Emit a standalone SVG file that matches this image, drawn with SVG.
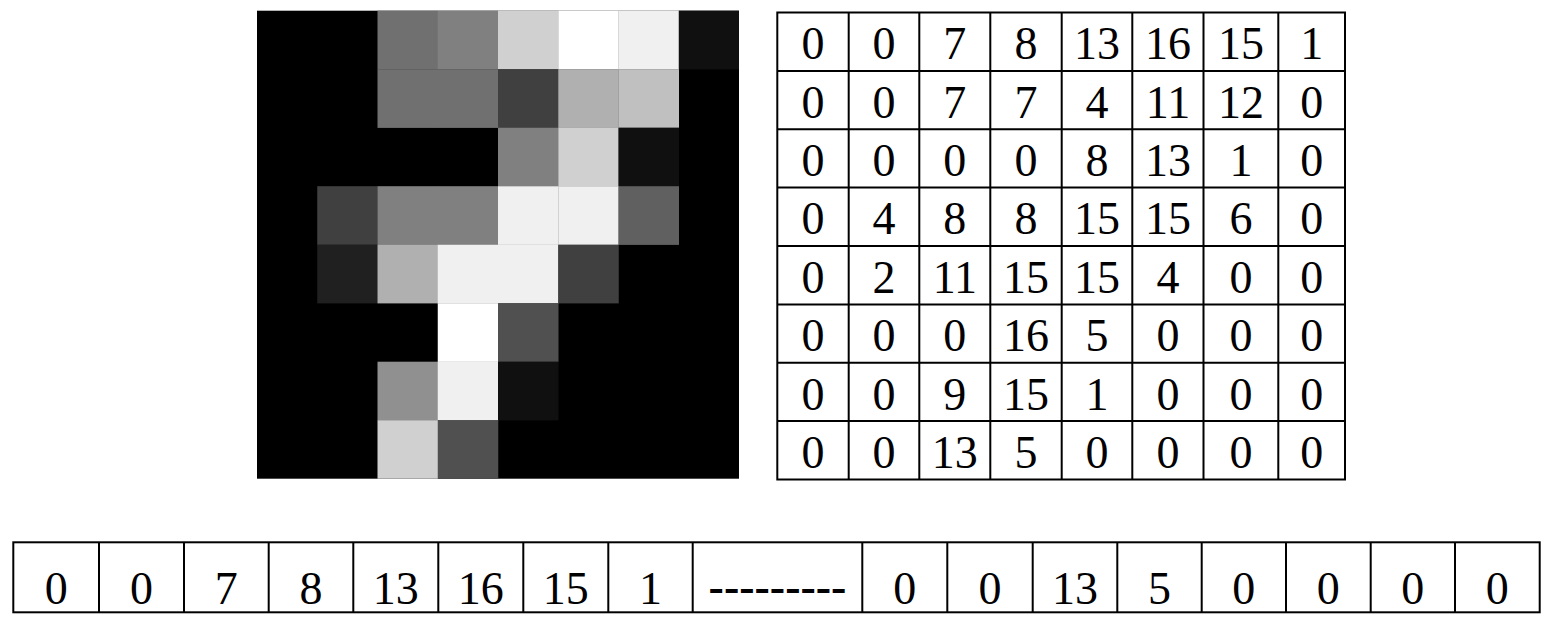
<svg xmlns="http://www.w3.org/2000/svg" width="1554" height="634" viewBox="0 0 1554 634">
<style>
.ln{stroke:#000;stroke-width:2;fill:none}
.t{font-family:"Liberation Serif","Times New Roman",serif;font-size:46px;fill:#000;text-anchor:middle}
.dash{font-weight:bold}
</style>
<rect width="1554" height="634" fill="#fff"/>
<g id="pixel-image">
<rect x="257" y="10.7" width="482" height="468" fill="#000"/>
<!-- row 0 -->
<rect x="377.5" y="10.7" width="60.5" height="58.7" fill="#707070"/>
<rect x="437.75" y="10.7" width="60.5" height="58.7" fill="#808080"/>
<rect x="498" y="10.7" width="60.5" height="58.7" fill="#d0d0d0"/>
<rect x="558.25" y="10.7" width="60.5" height="58.7" fill="#ffffff"/>
<rect x="618.5" y="10.7" width="60.5" height="58.7" fill="#f0f0f0"/>
<rect x="678.75" y="10.7" width="60.25" height="58.7" fill="#101010"/>
<!-- row 1 -->
<rect x="377.5" y="69.2" width="60.5" height="58.7" fill="#707070"/>
<rect x="437.75" y="69.2" width="60.5" height="58.7" fill="#707070"/>
<rect x="498" y="69.2" width="60.5" height="58.7" fill="#404040"/>
<rect x="558.25" y="69.2" width="60.5" height="58.7" fill="#b0b0b0"/>
<rect x="618.5" y="69.2" width="60.5" height="58.7" fill="#c0c0c0"/>
<!-- row 2 -->
<rect x="498" y="127.7" width="60.5" height="58.7" fill="#808080"/>
<rect x="558.25" y="127.7" width="60.5" height="58.7" fill="#d0d0d0"/>
<rect x="618.5" y="127.7" width="60.5" height="58.7" fill="#101010"/>
<!-- row 3 -->
<rect x="317.25" y="186.2" width="60.5" height="58.7" fill="#404040"/>
<rect x="377.5" y="186.2" width="60.5" height="58.7" fill="#808080"/>
<rect x="437.75" y="186.2" width="60.5" height="58.7" fill="#808080"/>
<rect x="498" y="186.2" width="60.5" height="58.7" fill="#f0f0f0"/>
<rect x="558.25" y="186.2" width="60.5" height="58.7" fill="#f0f0f0"/>
<rect x="618.5" y="186.2" width="60.5" height="58.7" fill="#606060"/>
<!-- row 4 -->
<rect x="317.25" y="244.7" width="60.5" height="58.7" fill="#202020"/>
<rect x="377.5" y="244.7" width="60.5" height="58.7" fill="#b0b0b0"/>
<rect x="437.75" y="244.7" width="60.5" height="58.7" fill="#f0f0f0"/>
<rect x="498" y="244.7" width="60.5" height="58.7" fill="#f0f0f0"/>
<rect x="558.25" y="244.7" width="60.5" height="58.7" fill="#404040"/>
<!-- row 5 -->
<rect x="437.75" y="303.2" width="60.5" height="58.7" fill="#ffffff"/>
<rect x="498" y="303.2" width="60.5" height="58.7" fill="#505050"/>
<!-- row 6 -->
<rect x="377.5" y="361.7" width="60.5" height="58.7" fill="#909090"/>
<rect x="437.75" y="361.7" width="60.5" height="58.7" fill="#f0f0f0"/>
<rect x="498" y="361.7" width="60.5" height="58.7" fill="#101010"/>
<!-- row 7 -->
<rect x="377.5" y="420.2" width="60.5" height="58.5" fill="#d0d0d0"/>
<rect x="437.75" y="420.2" width="60.5" height="58.5" fill="#505050"/>
</g>
<g id="value-table">
<rect class="ln" x="777.3" y="12.5" width="567.7" height="467"/>
<path class="ln" d="M848.7 12.5V479.5M919.3 12.5V479.5M990.3 12.5V479.5M1061.7 12.5V479.5M1132.3 12.5V479.5M1203.5 12.5V479.5M1278.3 12.5V479.5"/>
<path class="ln" d="M777.3 70.9H1345M777.3 129.25H1345M777.3 187.6H1345M777.3 246H1345M777.3 304.4H1345M777.3 362.75H1345M777.3 421.1H1345"/>
<g class="t">
<text x="813" y="59.3">0</text><text x="884" y="59.3">0</text><text x="954.8" y="59.3">7</text><text x="1026" y="59.3">8</text><text x="1097" y="59.3">13</text><text x="1168" y="59.3">16</text><text x="1241" y="59.3">15</text><text x="1311.7" y="59.3">1</text>
<text x="813" y="117.7">0</text><text x="884" y="117.7">0</text><text x="954.8" y="117.7">7</text><text x="1026" y="117.7">7</text><text x="1097" y="117.7">4</text><text x="1168" y="117.7">11</text><text x="1241" y="117.7">12</text><text x="1311.7" y="117.7">0</text>
<text x="813" y="176">0</text><text x="884" y="176">0</text><text x="954.8" y="176">0</text><text x="1026" y="176">0</text><text x="1097" y="176">8</text><text x="1168" y="176">13</text><text x="1241" y="176">1</text><text x="1311.7" y="176">0</text>
<text x="813" y="234.4">0</text><text x="884" y="234.4">4</text><text x="954.8" y="234.4">8</text><text x="1026" y="234.4">8</text><text x="1097" y="234.4">15</text><text x="1168" y="234.4">15</text><text x="1241" y="234.4">6</text><text x="1311.7" y="234.4">0</text>
<text x="813" y="292.8">0</text><text x="884" y="292.8">2</text><text x="954.8" y="292.8">11</text><text x="1026" y="292.8">15</text><text x="1097" y="292.8">15</text><text x="1168" y="292.8">4</text><text x="1241" y="292.8">0</text><text x="1311.7" y="292.8">0</text>
<text x="813" y="351.2">0</text><text x="884" y="351.2">0</text><text x="954.8" y="351.2">0</text><text x="1026" y="351.2">16</text><text x="1097" y="351.2">5</text><text x="1168" y="351.2">0</text><text x="1241" y="351.2">0</text><text x="1311.7" y="351.2">0</text>
<text x="813" y="409.6">0</text><text x="884" y="409.6">0</text><text x="954.8" y="409.6">9</text><text x="1026" y="409.6">15</text><text x="1097" y="409.6">1</text><text x="1168" y="409.6">0</text><text x="1241" y="409.6">0</text><text x="1311.7" y="409.6">0</text>
<text x="813" y="468">0</text><text x="884" y="468">0</text><text x="954.8" y="468">13</text><text x="1026" y="468">5</text><text x="1097" y="468">0</text><text x="1168" y="468">0</text><text x="1241" y="468">0</text><text x="1311.7" y="468">0</text>
</g>
</g>
<g id="flat-vector">
<rect class="ln" x="13.3" y="542.3" width="1526.4" height="70"/>
<path class="ln" d="M99 542.3V612.3M184 542.3V612.3M268.7 542.3V612.3M353.3 542.3V612.3M438.3 542.3V612.3M523.3 542.3V612.3M608.3 542.3V612.3M692.7 542.3V612.3M862.3 542.3V612.3M947.3 542.3V612.3M1032.7 542.3V612.3M1117.3 542.3V612.3M1201.7 542.3V612.3M1286 542.3V612.3M1370.7 542.3V612.3M1455 542.3V612.3"/>
<g class="t">
<text x="56.2" y="604">0</text><text x="141.5" y="604">0</text><text x="226.3" y="604">7</text><text x="311" y="604">8</text><text x="395.8" y="604">13</text><text x="480.8" y="604">16</text><text x="565.8" y="604">15</text><text x="650.5" y="604">1</text>
<text class="dash" x="777.5" y="602">---------</text>
<text x="904.8" y="604">0</text><text x="990" y="604">0</text><text x="1075" y="604">13</text><text x="1159.5" y="604">5</text><text x="1243.8" y="604">0</text><text x="1328.3" y="604">0</text><text x="1412.8" y="604">0</text><text x="1497.3" y="604">0</text>
</g>
</g>
</svg>
